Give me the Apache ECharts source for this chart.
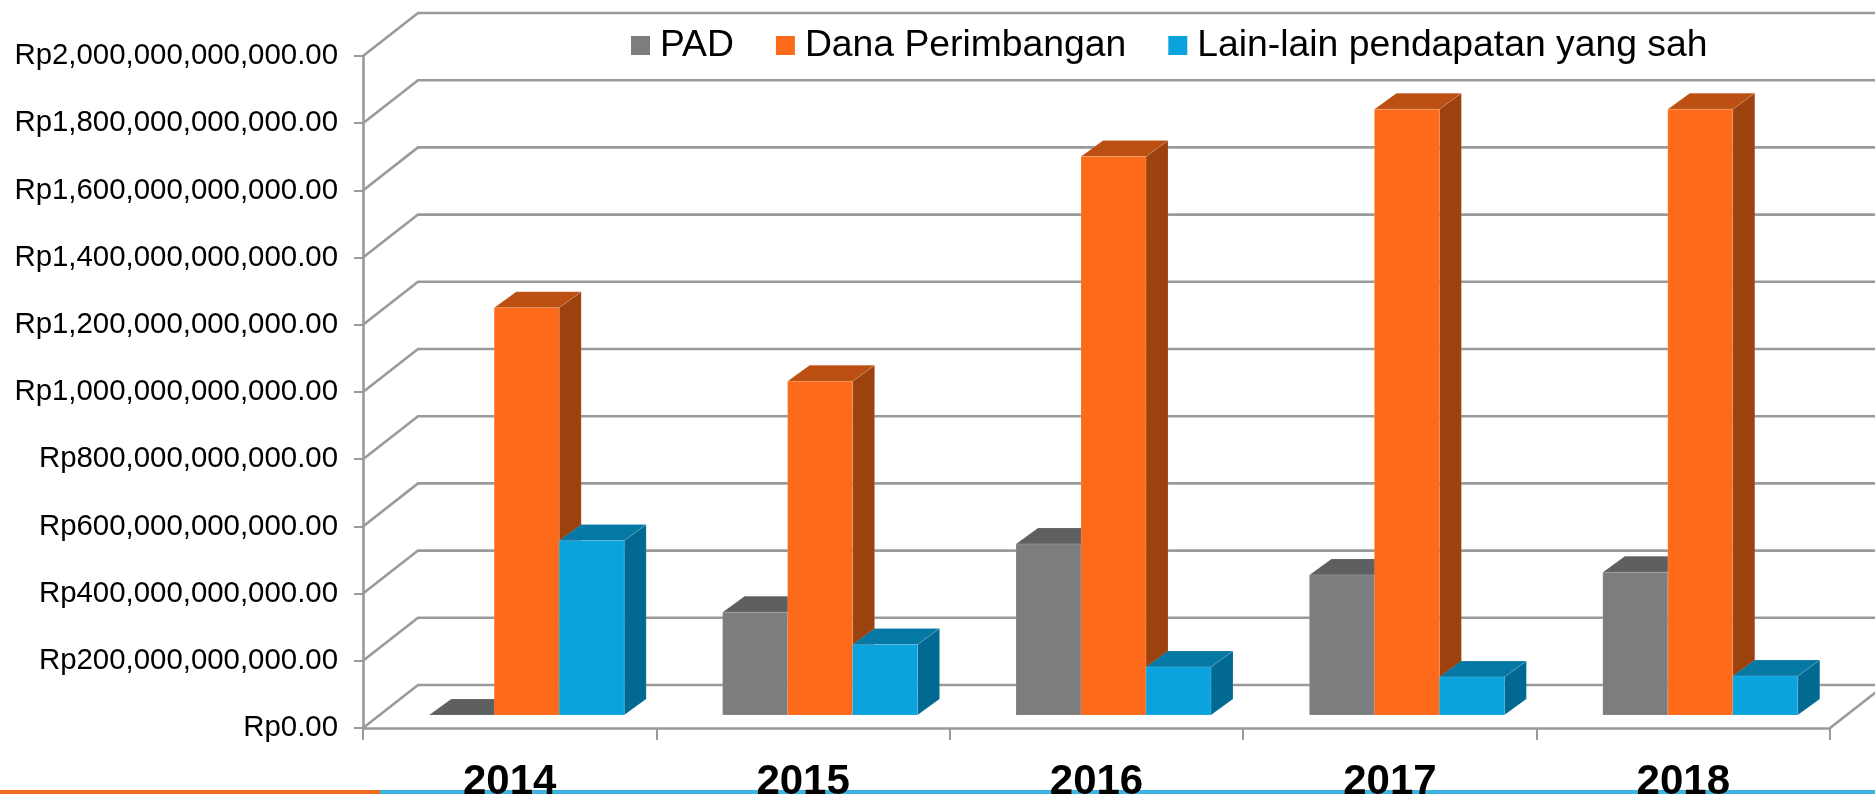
<!DOCTYPE html>
<html>
<head>
<meta charset="utf-8">
<title>Pendapatan</title>
<style>
  html, body { margin: 0; padding: 0; background: #fff; overflow: hidden; }
  #chart { width: 1875px; height: 794px; }
</style>
<script src="https://cdn.jsdelivr.net/npm/echarts@6/dist/echarts.min.js"></script>
</head>
<body>
<div id="chart"></div>
<script>
const years = ['2014', '2015', '2016', '2017', '2018']
const padValues = [0, 306e9, 509e9, 417e9, 425e9]
const danaValues = [1212e9, 993e9, 1662e9, 1803e9, 1803e9]
const lainValues = [519e9, 210e9, 143e9, 113e9, 116e9]
const yTicks = [0, 2e11, 4e11, 6e11, 8e11, 1e12, 1.2e12, 1.4e12, 1.6e12, 1.8e12, 2e12]

const gridColor = '#9a9a9a'
// kedalaman dinding dan batang 3D (piksel)
const wallDepth = { x: 55, y: -43 }
const barFront = { x: 17, y: -13 }
const barDepth = { x: 22, y: -16 }
const barRatio = 0.2215

const chart = echarts.init(document.getElementById('chart'), null, { renderer: 'canvas' })

const formatRupiah = v => 'Rp' + v.toLocaleString('en-US', { minimumFractionDigits: 2, maximumFractionDigits: 2 })

// garis dinding belakang dan lantai
const renderWall = (params, api) => {
  const v = api.value(0)
  const start = api.coord([0, v])
  const band = api.size([1, 0])[0]
  const left = start[0] - band / 2
  const right = left + band * years.length
  const y = start[1]
  const points = [[left, y], [left + wallDepth.x, y + wallDepth.y], [right + wallDepth.x, y + wallDepth.y]]
  if (v === 0) points.push([right, y])
  return {
    type: 'polyline',
    shape: { points },
    style: { stroke: gridColor, lineWidth: 2.6, fill: null }
  }
}

// batang 3D: muka depan, atas, samping
const makeBarRenderer = (index, colors) => (params, api) => {
  const top = api.coord([api.value(0), api.value(1)])
  const base = api.coord([api.value(0), 0])
  const band = api.size([1, 0])[0]
  const w = band * barRatio
  const x0 = top[0] + barFront.x + (index - 1.5) * w
  const x1 = x0 + w
  const yTop = top[1] + barFront.y
  const yBase = base[1] + barFront.y
  const dx = barDepth.x
  const dy = barDepth.y
  const edge = 'rgba(255,255,255,0.12)'
  const children = [
    {
      type: 'polygon',
      shape: { points: [[x1, yTop], [x1 + dx, yTop + dy], [x1 + dx, yBase + dy], [x1, yBase]] },
      style: { fill: colors.side, stroke: edge, lineWidth: 1 }
    },
    {
      type: 'polygon',
      shape: { points: [[x0, yTop], [x0 + dx, yTop + dy], [x1 + dx, yTop + dy], [x1, yTop]] },
      style: { fill: colors.top, stroke: edge, lineWidth: 1 }
    }
  ]
  if (yBase > yTop) {
    children.push({
      type: 'rect',
      shape: { x: x0, y: yTop, width: w, height: yBase - yTop },
      style: { fill: colors.front, stroke: edge, lineWidth: 1 }
    })
  }
  return { type: 'group', children }
}

const padColors = { front: '#7c7d7f', top: '#5e5f61', side: '#5a5b5d' }
const danaColors = { front: '#fd6b1a', top: '#bc5012', side: '#9c420f' }
const lainColors = { front: '#0ba3dd', top: '#0578a4', side: '#026a92' }

const barSeries = (name, values, index, colors) => ({
  name,
  type: 'custom',
  coordinateSystem: 'cartesian2d',
  renderItem: makeBarRenderer(index, colors),
  itemStyle: { color: colors.front },
  encode: { x: 0, y: 1 },
  data: values.map((v, i) => [i, v]),
  clip: false,
  z: 3
})

chart.setOption({
  animation: false,
  backgroundColor: '#fff',
  textStyle: { fontFamily: '"Liberation Sans", Arial, sans-serif' },
  legend: {
    data: ['PAD', 'Dana Perimbangan', 'Lain-lain pendapatan yang sah'],
    left: 631,
    top: 27,
    padding: 0,
    itemWidth: 19,
    itemHeight: 19,
    itemGap: 42,
    icon: 'rect',
    textStyle: { fontSize: 37.3, color: '#000', padding: [0, 0, 0, 5] }
  },
  grid: { left: 363, top: 56, width: 1467, height: 672, outerBoundsMode: 'none' },
  xAxis: {
    type: 'category',
    data: years,
    axisLine: { lineStyle: { color: gridColor, width: 2.6 } },
    axisTick: { show: true, length: 12, lineStyle: { color: gridColor, width: 2 } },
    axisLabel: { fontSize: 42, fontWeight: 'bold', color: '#000', margin: 33 },
    splitLine: { show: false }
  },
  yAxis: {
    type: 'value',
    min: 0,
    max: 2e12,
    interval: 2e11,
    axisLine: { show: true, lineStyle: { color: gridColor, width: 2.6 } },
    axisTick: { show: true, length: 9, lineStyle: { color: gridColor, width: 2 } },
    axisLabel: { fontSize: 29.4, color: '#000', margin: 25, formatter: formatRupiah },
    splitLine: { show: false }
  },
  series: [
    {
      name: 'walls',
      type: 'custom',
      coordinateSystem: 'cartesian2d',
      renderItem: renderWall,
      encode: { y: 0 },
      data: yTicks.map(v => [v]),
      clip: false,
      silent: true,
      z: 1
    },
    barSeries('PAD', padValues, 0, padColors),
    barSeries('Dana Perimbangan', danaValues, 1, danaColors),
    barSeries('Lain-lain pendapatan yang sah', lainValues, 2, lainColors)
  ],
  graphic: [
    { type: 'rect', z: -1, shape: { x: 0, y: 790, width: 380, height: 4 }, style: { fill: '#f26c21' } },
    { type: 'rect', z: -1, shape: { x: 380, y: 790, width: 1495, height: 4 }, style: { fill: '#3fb3e0' } }
  ]
})
</script>
</body>
</html>
